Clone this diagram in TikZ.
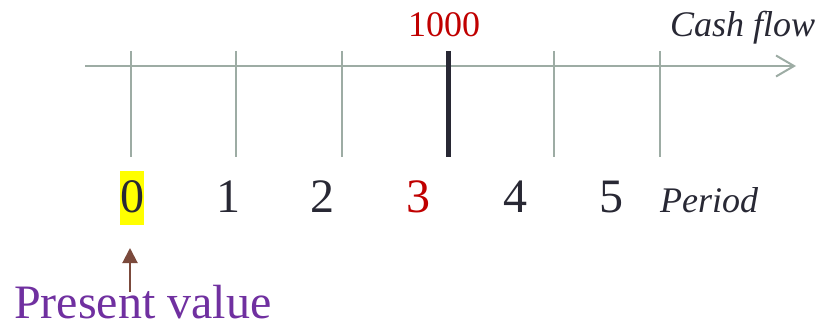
\documentclass[tikz,border=0pt]{standalone}
\usepackage{fontspec}
\setmainfont{Liberation Serif}
\usetikzlibrary{arrows.meta}
\definecolor{axisgray}{RGB}{157,172,164}
\definecolor{darktxt}{RGB}{40,40,52}
\definecolor{cfred}{RGB}{192,0,0}
\definecolor{pvpurple}{RGB}{112,48,160}
\definecolor{pvbrown}{RGB}{123,74,60}
\definecolor{hlyellow}{RGB}{255,255,0}
\tikzset{
  axisline/.style={draw=axisgray, line width=2pt},
  ticklbl/.style={anchor=base, inner sep=0pt, font=\fontsize{48}{48}\selectfont, text=darktxt},
  axislbl/.style={anchor=base west, inner sep=0pt, font=\fontsize{36}{36}\selectfont\itshape, text=darktxt},
}
\begin{document}
\begin{tikzpicture}[x=1pt, y=-1pt]
\useasboundingbox (0,0) rectangle (822,323);
% axis
\coordinate (a0) at (85,66);
\coordinate (a1) at (796,66);
\draw[axisline, -{Straight Barb[length=18pt,width=21pt,line width=2pt]}] (a0) -- (a1);
% ticks
\foreach \n/\x in {t0/130.5, t1/236, t2/342, t4/554, t5/660}{
  \coordinate (\n top) at (\x,51);
  \coordinate (\n bot) at (\x,157);
  \draw[axisline] (\n top) -- (\n bot);
}
\coordinate (t3top) at (448,51);
\coordinate (t3bot) at (448,157);
\draw[draw=darktxt, line width=5pt] (t3top) -- (t3bot);
% labels above
\node[anchor=base, inner sep=0pt, font=\fontsize{36}{36}\selectfont, text=cfred] (cf) at (444,37) {1000};
\node[axislbl] (cash) at (670,37) {Cash flow};
% highlight
\fill[hlyellow] (120,171) rectangle (144,225);
% period labels
\node[ticklbl] (d0) at (132,213) {0};
\node[ticklbl] (d1) at (228,213) {1};
\node[ticklbl] (d2) at (322,213) {2};
\node[ticklbl, text=cfred] (d3) at (418,213) {3};
\node[ticklbl] (d4) at (515,213) {4};
\node[ticklbl] (d5) at (611,213) {5};
\node[axislbl] (per) at (660,213) {Period};
% present value
\node[anchor=base west, inner sep=0pt, font=\fontsize{48}{48}\selectfont, text=pvpurple] (pv) at (14,318) {Present value};
\coordinate (pvtop) at (130,292);
\coordinate (pvtip) at (130,248);
\draw[draw=pvbrown, line width=2pt, -{Triangle[length=15pt,width=15pt]}] (pvtop) -- (pvtip);
\end{tikzpicture}
\end{document}
